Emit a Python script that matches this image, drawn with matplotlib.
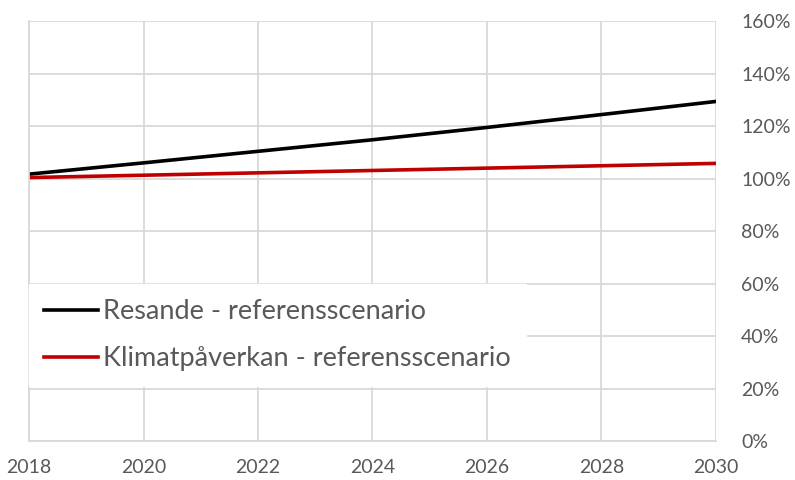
import matplotlib.pyplot as plt
from matplotlib.ticker import PercentFormatter

years = [2018, 2020, 2022, 2024, 2026, 2028, 2030]
resande = [101.7, 106.0, 110.4, 114.8, 119.5, 124.4, 129.4]
klimat = [100.4, 101.3, 102.2, 103.1, 104.0, 104.9, 105.8]

plt.rcParams['font.family'] = ['Lato', 'DejaVu Sans']
grey = '#595959'
gridc = '#d9d9d9'

fig = plt.figure(figsize=(7.95, 4.8), dpi=100)
ax = fig.add_axes([0.0365, 0.081, 0.8641, 0.875])

ax.plot(years, resande, color='black', lw=2.6, label='Resande - referensscenario')
ax.plot(years, klimat, color='#c00000', lw=2.6, label='Klimatpåverkan - referensscenario')

ax.set_xlim(2018, 2030)
ax.set_ylim(0, 160)
ax.set_xticks(years)
ax.set_yticks(range(0, 161, 20))
ax.yaxis.set_major_formatter(PercentFormatter(decimals=0))
ax.yaxis.tick_right()
ax.grid(True, color=gridc, lw=1.3)
ax.set_axisbelow(True)
for s in ['top', 'right']:
    ax.spines[s].set_visible(False)
for s in ['left', 'bottom']:
    ax.spines[s].set_color(gridc)
    ax.spines[s].set_linewidth(1.3)
ax.tick_params(length=0, colors=grey, labelsize=14)
ax.tick_params(axis='y', pad=18)
ax.tick_params(axis='x', pad=13)

leg = ax.legend(loc='upper left', bbox_to_anchor=(0.0, 0.373), frameon=True,
                fancybox=False, fontsize=19.5, labelcolor=grey, handlelength=2.0,
                handletextpad=0.2, labelspacing=0.8, borderpad=0.55, borderaxespad=0)
leg.get_frame().set_facecolor('white')
leg.get_frame().set_edgecolor('white')
leg.get_frame().set_alpha(1)

fig.savefig('out.png', dpi=100)
